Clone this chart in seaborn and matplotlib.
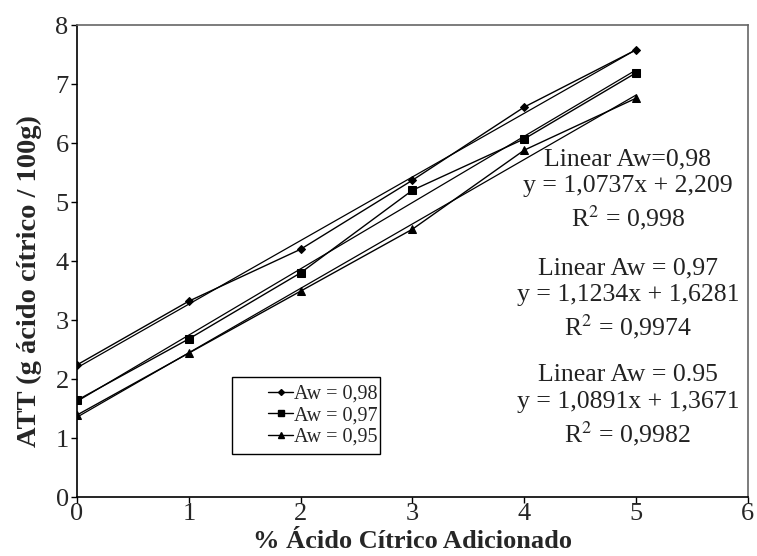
import numpy as np
import pandas as pd
import matplotlib
matplotlib.use('Agg')
import matplotlib.pyplot as plt
from matplotlib.patches import Rectangle
import seaborn as sns

# data
acido = [0, 1, 2, 3, 4, 5]
att_098 = [2.24, 3.32, 4.20, 5.37, 6.61, 7.58]
att_097 = [1.64, 2.68, 3.80, 5.20, 6.07, 7.19]
att_095 = [1.39, 2.44, 3.49, 4.54, 5.88, 6.76]
series_labels = ['Aw = 0,98', 'Aw = 0,97', 'Aw = 0,95']
markers = ['D', 's', '^']
marker_sizes = [4, 6, 6]
fit_texts = [
    'Linear Aw=0,98\ny = 1,0737x + 2,209\nR$^{2}$ = 0,998',
    'Linear Aw = 0,97\ny = 1,1234x + 1,6281\nR$^{2}$ = 0,9974',
    'Linear Aw = 0.95\ny = 1,0891x + 1,3671\nR$^{2}$ = 0,9982',
]

df = pd.DataFrame({
    'x': acido * 3,
    'y': att_098 + att_097 + att_095,
    'Aw': sum([[lab] * len(acido) for lab in series_labels], []),
})

sns.set_theme(style='white')
plt.rcParams['font.family'] = ['Liberation Serif', 'DejaVu Serif']
plt.rcParams['mathtext.fontset'] = 'stix'

fig = plt.figure(figsize=(7.57, 5.56), dpi=100)
ax = fig.add_axes([0.1017, 0.106, 0.8863, 0.849])

handles = []
for lab, mk, ms in zip(series_labels, markers, marker_sizes):
    sub = df[df['Aw'] == lab]
    # linear trendline
    sns.regplot(x='x', y='y', data=sub, ax=ax, scatter=False, ci=None,
                truncate=True, line_kws={'color': 'black', 'lw': 0.9})
    sns.lineplot(x='x', y='y', data=sub, ax=ax, color='black', lw=1.0,
                 marker=mk, markersize=ms, markeredgecolor='black')
    h, = ax.plot([], [], color='black', lw=1.0, marker=mk,
                 markersize=ms - 1, markeredgecolor='black')
    handles.append(h)

ax.set_xlim(0, 6)
ax.set_ylim(0, 8)
ax.set_xticks(range(0, 7))
ax.set_yticks(range(0, 9))
ax.tick_params(axis='both', labelsize=19, length=4, width=1, color='black',
               direction='out', bottom=True, left=True)
ax.tick_params(axis='x', pad=0)
ax.tick_params(axis='y', pad=2)
for side in ['left', 'bottom']:
    ax.spines[side].set_color('black')
    ax.spines[side].set_linewidth(1.2)
for side in ['top', 'right']:
    ax.spines[side].set_color('#666666')
    ax.spines[side].set_linewidth(1.2)

ax.set_xlabel('% Ácido Cítrico Adicionado', fontsize=19, fontweight='bold',
              labelpad=4)
ax.set_ylabel('ATT (g ácido cítrico / 100g)', fontsize=20.5, fontweight='bold')
ax.yaxis.set_label_coords(-0.052, 0.458)

for txt, yy in zip(fit_texts, [0.650, 0.419, 0.193]):
    ax.text(0.821, yy, txt, transform=ax.transAxes, ha='center', va='center',
            fontsize=18.5, linespacing=1.27, color='#222222')

# legend box (Excel style, extra room on the left)
ax.add_patch(Rectangle((0.231, 0.091), 0.2205, 0.163, transform=ax.transAxes,
                       fill=True, facecolor='white', edgecolor='black',
                       lw=1.0, zorder=4))
leg = ax.legend(handles, series_labels, loc='center left',
                bbox_to_anchor=(0.285, 0.1725), fontsize=14.5, frameon=False,
                handlelength=1.25, handletextpad=0.05, borderpad=0,
                labelspacing=0.12, borderaxespad=0)
leg.set_zorder(5)

fig.savefig('out.png', dpi=100)
